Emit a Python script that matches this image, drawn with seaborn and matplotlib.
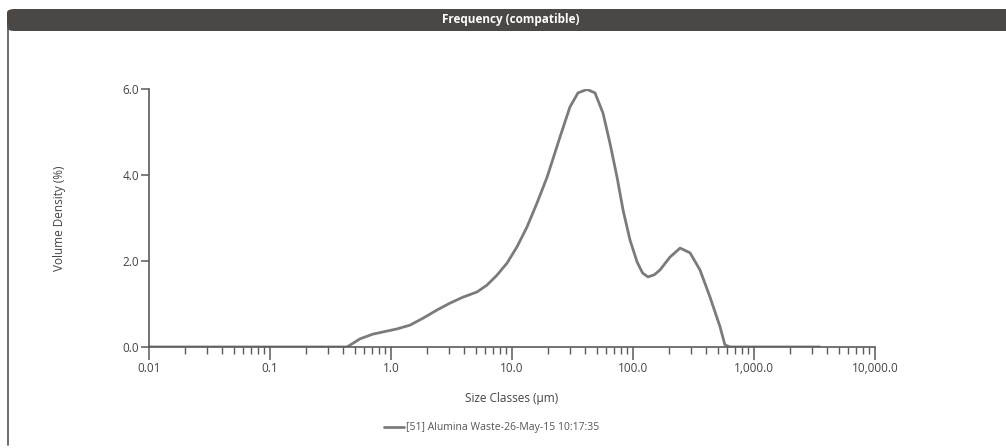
import matplotlib
matplotlib.use("Agg")
import matplotlib.pyplot as plt
import seaborn as sns
import pandas as pd
import numpy as np
from matplotlib.patches import FancyBboxPatch
from matplotlib.lines import Line2D
from matplotlib.ticker import LogLocator, NullFormatter

size_um = [0.01, 0.2, 0.433, 0.555, 0.710, 0.859, 1.12, 1.44, 1.84, 2.40, 3.07, 3.94, 5.14,
           6.21, 7.51, 9.09, 11.0, 13.3, 16.1, 19.5, 24.9, 30.1, 35.1, 41.7, 48.5, 56.5,
           64.5, 73.8, 82.7, 94.4, 108, 120, 133, 150, 167, 202, 245, 296, 358, 433, 524,
           575, 634, 1000, 3500]
volume_density = [0.0, 0.0, 0.0, 0.19, 0.30, 0.35, 0.42, 0.51, 0.67, 0.86, 1.02, 1.16, 1.28,
                  1.44, 1.67, 1.95, 2.33, 2.79, 3.35, 3.95, 4.88, 5.58, 5.91, 5.99, 5.91, 5.44,
                  4.74, 3.95, 3.19, 2.49, 1.98, 1.72, 1.63, 1.68, 1.79, 2.09, 2.30, 2.19, 1.79,
                  1.16, 0.47, 0.05, 0.0, 0.0, 0.0]
x_ticks = [0.01, 0.1, 1.0, 10.0, 100.0, 1000.0, 10000.0]
x_tick_labels = ["0.01", "0.1", "1.0", "10.0", "100.0", "1,000.0", "10,000.0"]
y_ticks = [0.0, 2.0, 4.0, 6.0]
y_tick_labels = ["0.0", "2.0", "4.0", "6.0"]
title = "Frequency (compatible)"
series_name = "[51] Alumina Waste-26-May-15 10:17:35"

sns.set_theme(style="white")
plt.rcParams['font.family'] = ['Open Sans', 'DejaVu Sans']

W, H = 1006, 448
fig = plt.figure(figsize=(W / 100, H / 100), dpi=100)
fig.patch.set_facecolor("white")

# panel frame: header bar and left border
hdr = FancyBboxPatch((7 / W, (H - 31) / H), (W + 20 - 7) / W, 22 / H,
                     boxstyle="round,pad=0,rounding_size=0.008", transform=fig.transFigure,
                     facecolor="#4a4745", edgecolor="none", zorder=0)
fig.patches.append(hdr)
fig.add_artist(Line2D([7.5 / W, 7.5 / W], [3 / H, (H - 25) / H], transform=fig.transFigure,
                      color="#555555", lw=1.2))
fig.text(511 / W, (H - 20) / H, title, color="white", fontsize=8.5, fontweight="bold",
         ha="center", va="center")

ax = fig.add_axes([149 / W, (H - 347) / H, (875 - 149) / W, (347 - 89) / H])
df = pd.DataFrame({"size": size_um, "density": volume_density})
sns.lineplot(data=df, x="size", y="density", ax=ax, color="#7b7b7b", linewidth=2.0,
             estimator=None, sort=False)
for ln in ax.get_lines():
    ln.set_solid_joinstyle("round")
    ln.set_solid_capstyle("round")
ax.set_xscale("log")
ax.set_xlim(0.01, 10000)
ax.set_ylim(0, 6.0)
ax.set_xticks(x_ticks)
ax.set_xticklabels(x_tick_labels)
ax.xaxis.set_minor_locator(LogLocator(base=10, subs=np.arange(2, 10)))
ax.xaxis.set_minor_formatter(NullFormatter())
ax.set_yticks(y_ticks)
ax.set_yticklabels(y_tick_labels)

for side in ["top", "right"]:
    ax.spines[side].set_visible(False)
for side in ["left", "bottom"]:
    ax.spines[side].set_color("#5a5a5a")
    ax.spines[side].set_linewidth(1.2)
ax.tick_params(axis="x", which="major", direction="out", length=9, width=1.1,
               color="#5a5a5a", labelsize=8.5, labelcolor="#444444", pad=2, bottom=True)
ax.tick_params(axis="x", which="minor", direction="out", length=5, width=1.0,
               color="#5a5a5a", bottom=True)
ax.tick_params(axis="y", which="major", direction="out", length=6, width=1.1,
               color="#5a5a5a", labelsize=8.5, labelcolor="#444444", pad=1, left=True)
ax.set_xlabel("Size Classes (µm)", fontsize=8.5, color="#444444", labelpad=12)
ax.set_ylabel("")
fig.text(59 / W, (H - 218) / H, "Volume Density (%)", fontsize=8.5, color="#444444",
         rotation=90, ha="center", va="center")

# legend
fig.add_artist(Line2D([384 / W, 404 / W], [(H - 427) / H] * 2, transform=fig.transFigure,
                      color="#7b7b7b", lw=2.0))
fig.text(406 / W, (H - 427) / H, series_name, fontsize=7.5, color="#555555",
         ha="left", va="center")

fig.savefig("out.png", dpi=100, facecolor="white")
